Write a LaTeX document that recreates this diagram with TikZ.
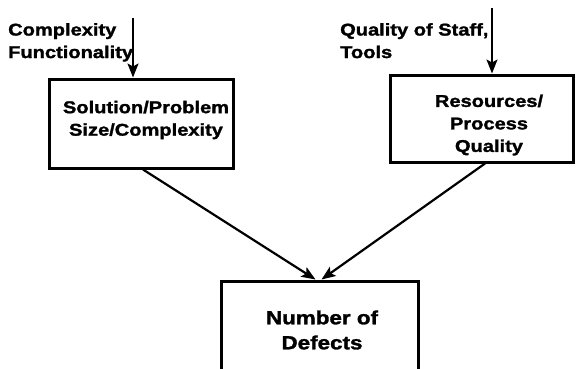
\documentclass[tikz,border=0pt]{standalone}
\usepackage{fontspec}
\setmainfont{Liberation Sans}[FakeStretch=1.16]
\newfontfamily\heavyfont{Liberation Sans}[FakeStretch=1.18, FakeBold=1.6]
\usetikzlibrary{arrows.meta}

\tikzset{
  txt/.style={font=\fontsize{17}{22.5}\selectfont\heavyfont\bfseries, inner sep=0pt},
  bigtxt/.style={txt, font=\fontsize{19}{25}\selectfont\heavyfont\bfseries},
  box/.style={draw, line width=3pt, inner sep=0pt},
  arr/.style={->, line width=2.2pt}
}

\begin{document}
\begin{tikzpicture}[>={Stealth[length=14pt,width=11pt,inset=3pt]}, x=1pt, y=-1pt]
\useasboundingbox (0,0) rectangle (576,368);
\clip (0,0) rectangle (576,368);

% Boxes
\node[box, minimum width=184pt, minimum height=89pt] (size) at (141,123.5) {};
\node[box, minimum width=183pt, minimum height=87pt] (res) at (481.5,118.5) {};
\node[box, minimum width=197pt, minimum height=120pt] (defects) at (319.5,341) {};

% Box texts
\node[txt, align=center] (sizetxt) at (146,120) {Solution/Problem\\Size/Complexity};
\node[txt, align=center] (restxt) at (489,125) {Resources/\\Process\\Quality};
\node[bigtxt, align=center] (deftxt) at (322,330) {Number of\\Defects};

% Input labels
\node[txt, align=left, anchor=north west] (cplx) at (8,23) {Complexity\\Functionality};
\node[txt, align=left, anchor=north west] (staff) at (340,23) {Quality of Staff,\\Tools};

% Input arrows
\coordinate (cin) at (133,18);
\coordinate (sin) at (492,8);
\draw[arr] (cin) -- (cin |- size.north);
\draw[arr] (sin) -- (sin |- res.north);

% Arrows to defects
\draw[arr] ([xshift=2pt]size.south) -- ([xshift=-4pt]defects.north);
\draw[arr] ([xshift=3.5pt]res.south) -- ([xshift=2pt]defects.north);
\end{tikzpicture}
\end{document}
